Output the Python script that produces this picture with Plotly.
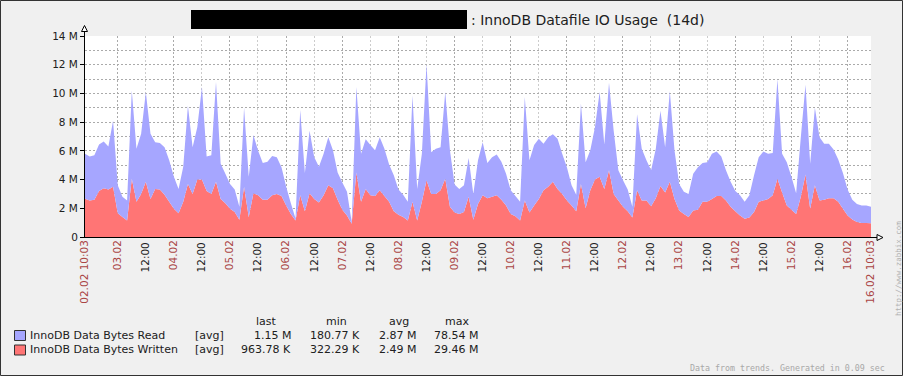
import plotly.graph_objects as go

# ---------------- data (values in M, sampled every 2 h from 02.02 10:03) ----------------
STEP_H = 2
written_m = [
    2.67, 2.55, 2.6, 3.2, 3.4, 3.3, 3.5, 1.65, 1.4, 1.15,
    4.05, 2.45, 3.0, 3.85, 2.65, 3.35, 3.3, 2.95, 2.45, 1.97,
    1.65, 2.45, 3.7, 3.0, 4.0, 4.0, 3.2, 3.0, 3.85, 2.65,
    2.35, 1.97, 1.75, 1.2, 3.5, 1.4, 3.05, 2.9, 2.6, 2.6,
    2.9, 3.0, 2.85, 2.2, 1.6, 1.15, 2.9, 1.8, 3.05, 2.65,
    2.4, 2.9, 3.6, 3.4, 2.6, 1.9, 1.5, 0.93, 4.5, 2.45,
    3.35, 2.9, 2.85, 3.25, 2.85, 2.45, 1.8, 1.55, 1.4, 1.15,
    2.45, 1.15, 2.45, 3.95, 3.0, 3.0, 3.25, 4.05, 2.1, 1.7,
    1.6, 1.75, 2.8, 1.2, 2.3, 2.9, 2.7, 2.8, 2.9, 2.6,
    2.2, 1.6, 1.45, 1.15, 2.55, 1.7, 2.2, 2.65, 3.25, 3.5,
    3.85, 3.35, 3.0, 2.55, 2.2, 1.8, 3.7, 2.0, 3.25, 4.0,
    4.2, 3.35, 4.65, 3.0, 2.55, 2.1, 1.8, 1.35, 3.25, 2.55,
    2.55, 2.15, 2.7, 3.55, 3.1, 3.85, 2.65, 1.85, 1.6, 1.4,
    1.85, 1.9, 2.45, 2.45, 2.65, 2.85, 2.85, 2.55, 2.1, 1.8,
    1.5, 1.27, 1.35, 1.75, 2.45, 2.55, 2.65, 2.9, 4.05, 3.1,
    2.2, 1.9, 1.6, 2.8, 4.35, 1.97, 3.6, 2.55, 2.6, 2.7,
    2.7, 2.45, 1.97, 1.5, 1.22, 1.05, 0.97, 0.97, 0.96,
]
read_m = [
    3.13, 3.05, 3.1, 3.25, 3.25, 3.0, 4.6, 1.95, 1.4, 1.4,
    6.15, 3.7, 4.2, 6.25, 4.55, 3.25, 3.25, 3.3, 2.9, 2.23,
    1.7, 2.45, 5.45, 3.25, 3.65, 6.45, 2.4, 2.7, 6.95, 2.45,
    2.05, 1.73, 1.55, 0.9, 5.5, 2.8, 4.05, 3.1, 2.55, 2.65,
    2.75, 2.55, 2.0, 1.3, 0.75, 0.13, 5.95, 2.65, 4.35, 2.9,
    2.5, 2.9, 3.35, 2.65, 1.9, 1.9, 1.65, 0.12, 5.95, 3.35,
    3.45, 3.5, 3.2, 3.7, 3.3, 2.6, 2.5, 1.75, 1.55, 1.3,
    7.4, 2.2, 3.35, 8.1, 2.9, 3.15, 3.0, 6.05, 3.95, 1.95,
    1.75, 1.85, 2.7, 1.8, 3.05, 3.7, 2.45, 2.75, 2.85, 2.65,
    2.2, 1.65, 1.4, 1.3, 7.2, 3.65, 4.2, 4.2, 3.25, 3.45,
    3.3, 3.5, 2.8, 2.3, 1.4, 1.15, 5.6, 3.2, 2.8, 3.65,
    5.9, 3.1, 6.1, 4.4, 2.1, 1.85, 1.5, 0.75, 5.3, 3.6,
    2.8, 2.5, 3.45, 5.25, 3.15, 6.3, 3.4, 1.85, 1.55, 1.6,
    2.55, 2.95, 2.7, 2.75, 3.15, 3.1, 2.75, 2.1, 1.75, 1.4,
    1.4, 1.18, 1.55, 2.55, 3.1, 3.4, 3.15, 2.95, 6.95, 2.7,
    3.0, 2.3, 1.45, 4.15, 6.25, 3.13, 5.4, 4.4, 3.9, 3.8,
    3.4, 2.95, 2.48, 1.8, 1.38, 1.25, 1.23, 1.23, 1.15,
]
hours = [i * STEP_H for i in range(len(written_m))]

SERIES_NAMES = ["InnoDB Data Bytes Read", "InnoDB Data Bytes Written"]
STAT_HEADERS = ["last", "min", "avg", "max"]
STATS_READ = ["1.15 M", "180.77 K", "2.87 M", "78.54 M"]
STATS_WRITTEN = ["963.78 K", "322.29 K", "2.49 M", "29.46 M"]

SPAN_H = 336
FIRST_MIDNIGHT_H = 13.95
START_LABEL = "02.02 10:03"
END_LABEL = "16.02 10:03"
DAY_LABELS = ["03.02", "04.02", "05.02", "06.02", "07.02", "08.02", "09.02",
              "10.02", "11.02", "12.02", "13.02", "14.02", "15.02", "16.02"]
HALF_LABEL = "12:00"
Y_TICKS_M = [0, 2, 4, 6, 8, 10, 12, 14]
Y_TICK_TEXT = ["0", "2 M", "4 M", "6 M", "8 M", "10 M", "12 M", "14 M"]

TITLE_TEXT = ": InnoDB Datafile IO Usage  (14d)"
FOOT_TEXT = "Data from trends. Generated in 0.09 sec"
URL_TEXT = "http://www.zabbix.com"

# ---------------- styling ----------------
W, H = 903, 376
ML, MR, MT, MB = 85, 32, 36, 139
PW = W - ML - MR
PH = H - MT - MB
FONT = "DejaVu Sans"
MONO = "DejaVu Sans Mono"
TEXT = "#202020"
HIGHLIGHT = "#AA4444"
BLUE = "#A6A6FF"
RED = "#FF7575"


def px(x):
    return (x - ML) / PW


def py(y):
    return (H - MB - y) / PH


day_pos = [FIRST_MIDNIGHT_H + 24 * i for i in range(len(DAY_LABELS))]
half_pos = [FIRST_MIDNIGHT_H + 12 + 24 * i for i in range(len(DAY_LABELS) - 1)]

fig = go.Figure()
fig.add_trace(go.Scatter(
    x=hours, y=[v * 1e6 for v in written_m], stackgroup="s", mode="none",
    fillcolor=RED, name=SERIES_NAMES[1], hoverinfo="skip"))
fig.add_trace(go.Scatter(
    x=hours, y=[v * 1e6 for v in read_m], stackgroup="s", mode="none",
    fillcolor=BLUE, name=SERIES_NAMES[0], hoverinfo="skip"))
# helper trace so the overlay axis is drawn
fig.add_trace(go.Scatter(x=[0, SPAN_H], y=[None, None], xaxis="x2", yaxis="y",
                         mode="none", showlegend=False, hoverinfo="skip"))

dash = "2px,2px"
fig.update_layout(
    width=W, height=H,
    margin=dict(l=ML, r=MR, t=MT, b=MB, pad=0),
    paper_bgcolor="#F0F0F0", plot_bgcolor="#FFFFFF",
    showlegend=False,
    font=dict(family=FONT, size=10.5, color=TEXT),
    xaxis=dict(
        range=[0, SPAN_H], tickmode="array", tickvals=half_pos,
        ticktext=[HALF_LABEL] * len(half_pos), tickangle=-90,
        tickfont=dict(family=FONT, size=10.5, color=TEXT),
        showgrid=True, gridcolor="#CCCCCC", griddash=dash, gridwidth=1,
        showline=True, linecolor="#000000", linewidth=1,
        ticks="", zeroline=False, fixedrange=True,
    ),
    xaxis2=dict(
        overlaying="x", anchor="y", side="bottom",
        range=[0, SPAN_H], tickmode="array",
        tickvals=[0] + day_pos + [SPAN_H],
        ticktext=[START_LABEL] + DAY_LABELS + [END_LABEL], tickangle=-90,
        tickfont=dict(family=FONT, size=10.5, color=HIGHLIGHT),
        showgrid=True, gridcolor="#AAAAAA", griddash=dash, gridwidth=1,
        showline=False, ticks="", zeroline=False, fixedrange=True,
    ),
    yaxis=dict(
        range=[0, 14e6], tickmode="array", tickvals=[v * 1e6 for v in Y_TICKS_M],
        ticktext=Y_TICK_TEXT, tickfont=dict(family=FONT, size=10.5, color=TEXT),
        showgrid=True, gridcolor="#AAAAAA", griddash=dash, gridwidth=1,
        minor=dict(tickvals=[v * 1e6 + 1e6 for v in Y_TICKS_M[:-1]], showgrid=True,
                   gridcolor="#AAAAAA", griddash=dash, gridwidth=1, ticks=""),
        showline=True, linecolor="#000000", linewidth=1,
        ticks="outside", ticklen=4, tickcolor="#000000",
        zeroline=False, fixedrange=True,
    ),
)

shapes = []
# outer border
shapes.append(dict(type="rect", xref="paper", yref="paper",
                   x0=px(0.5), x1=px(W - 0.5), y0=py(H - 0.5), y1=py(0.5),
                   line=dict(color="#333333", width=1), fillcolor="rgba(0,0,0,0)"))
# redacted title block
shapes.append(dict(type="rect", xref="paper", yref="paper",
                   x0=px(191), x1=px(467), y0=py(29), y1=py(10),
                   line=dict(width=0), fillcolor="#000000"))
# axis extensions and arrows
shapes.append(dict(type="line", xref="paper", yref="paper",
                   x0=px(84.5), x1=px(84.5), y0=py(36), y1=py(31),
                   line=dict(color="#000000", width=1)))
shapes.append(dict(type="path", xref="paper", yref="paper",
                   path=f"M {px(84.5)},{py(25.5)} L {px(87.5)},{py(31.5)} L {px(81.5)},{py(31.5)} Z",
                   line=dict(color="#000000", width=1), fillcolor="#FFFFFF"))
shapes.append(dict(type="line", xref="paper", yref="paper",
                   x0=px(871), x1=px(877), y0=py(237.5), y1=py(237.5),
                   line=dict(color="#000000", width=1)))
shapes.append(dict(type="path", xref="paper", yref="paper",
                   path=f"M {px(883)},{py(237.5)} L {px(877)},{py(234.5)} L {px(877)},{py(240.5)} Z",
                   line=dict(color="#000000", width=1), fillcolor="#FFFFFF"))
# legend colour boxes
for yc, col in [(335.5, BLUE), (350, RED)]:
    shapes.append(dict(type="rect", xref="paper", yref="paper",
                       x0=px(14.5), x1=px(25.5), y0=py(yc + 5), y1=py(yc - 5),
                       line=dict(color="#333333", width=1), fillcolor=col))
fig.update_layout(shapes=shapes)

ann = []


def add_text(text, x, y, xanchor="left", size=11, color=TEXT, family=FONT, angle=0):
    ann.append(dict(text=text, xref="paper", yref="paper", x=px(x), y=py(y),
                    xanchor=xanchor, yanchor="middle", showarrow=False,
                    textangle=angle, font=dict(family=family, size=size, color=color)))


add_text(TITLE_TEXT, 468.5, 19.5, size=14)
for hdr, xc in zip(STAT_HEADERS, [266.5, 336.5, 399, 457]):
    add_text(hdr, xc, 321.5, xanchor="center")
col_right = [293, 362, 418, 480]
for yrow, name, stats in [(335.3, SERIES_NAMES[0], STATS_READ),
                          (349.7, SERIES_NAMES[1], STATS_WRITTEN)]:
    add_text(name, 27.5, yrow)
    add_text("[avg]", 192.5, yrow)
    for s, xr in zip(stats, col_right):
        add_text(s, xr, yrow, xanchor="right")
add_text(FOOT_TEXT, 887, 368, xanchor="right", size=8.3, color="#A8A8A8", family=MONO)
add_text(URL_TEXT, 898, 269, xanchor="center", size=7.5, color="#B0B0B0", family=MONO, angle=-90)
fig.update_layout(annotations=ann)

fig.write_html("out.html", config={"displayModeBar": False},
               post_script="document.body.style.margin='0';document.body.style.overflow='hidden';")
